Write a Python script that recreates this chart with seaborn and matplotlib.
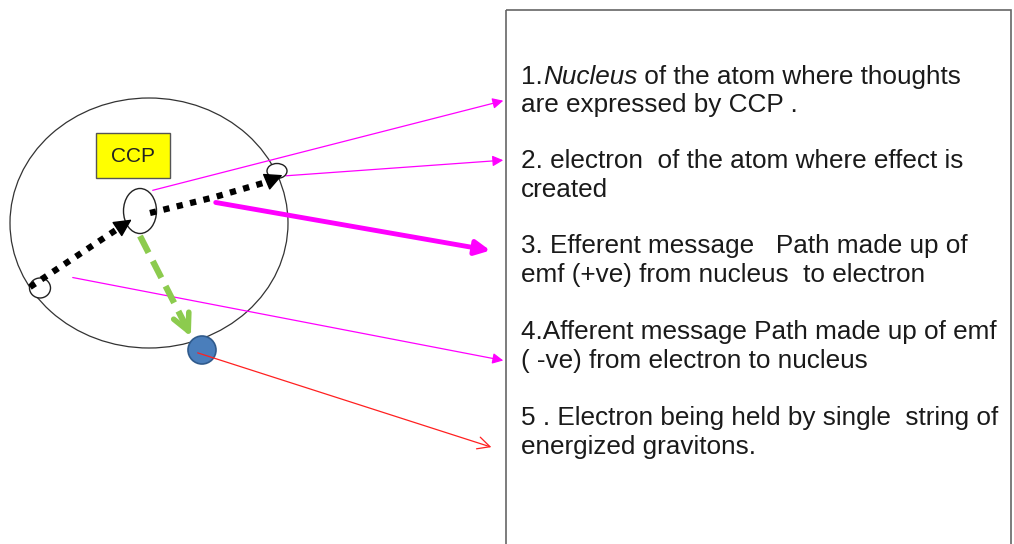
import matplotlib
matplotlib.use("Agg")
import matplotlib.pyplot as plt
import seaborn as sns
from matplotlib.patches import Ellipse, Rectangle, Circle

# legend text, one entry per numbered item (first word of item 1 is italic)
item_lines = [
    ["1.", " of the atom where thoughts", "are expressed by CCP ."],
    ["2. electron  of the atom where effect is", "created"],
    ["3. Efferent message   Path made up of", "emf (+ve) from nucleus  to electron"],
    ["4.Afferent message Path made up of emf", "( -ve) from electron to nucleus"],
    ["5 . Electron being held by single  string of", "energized gravitons."],
]
baselines = [[84, 112], [168, 197], [253, 282], [339, 368], [425, 454]]

MAGENTA = "#FF00FF"
GREEN = "#8CCB4E"
BALL = "#4A7EBB"

sns.set_theme(style="white")
plt.rcParams["font.family"] = ["Liberation Sans", "DejaVu Sans"]

fig = plt.figure(figsize=(10.14, 5.44), dpi=100)
ax = fig.add_axes([0, 0, 1, 1])
ax.set_xlim(0, 1014)
ax.set_ylim(544, 0)
ax.axis("off")

# atom
ax.add_patch(Ellipse((149, 223), 278, 250, fill=False, ec="#333333", lw=0.9))
ax.add_patch(Rectangle((96, 133), 74, 45, fc="#FFFF00", ec="#555555", lw=1))
ax.text(133, 157, "CCP", ha="center", va="center", fontsize=15, color="#222222")
ax.add_patch(Ellipse((140, 211), 33, 45, fc="white", ec="#222222", lw=1, zorder=3))
ax.add_patch(Ellipse((277, 171), 20, 15, fc="white", ec="#222222", lw=1, zorder=3))
ax.add_patch(Ellipse((40, 288), 21, 20, fc="white", ec="#222222", lw=1, zorder=3))

# black dotted paths
ax.plot([30, 122], [287, 226], color="black", lw=4.5, ls=(0, (1, 1.2)), zorder=4)
ax.annotate("", xy=(134, 218), xytext=(116, 230),
            arrowprops=dict(arrowstyle="-|>", color="black", mutation_scale=28, lw=1), zorder=5)
ax.plot([150, 215, 270], [213, 197, 181], color="black", lw=4.5, ls=(0, (1, 1.2)), zorder=4)
ax.annotate("", xy=(285, 174), xytext=(266, 182),
            arrowprops=dict(arrowstyle="-|>", color="black", mutation_scale=28, lw=1), zorder=5)

# green dashed path to the electron ball
ax.plot([140, 187], [236, 328], color=GREEN, lw=4.5, ls=(0, (3, 1.5)), zorder=4)
ax.annotate("", xy=(192, 339), xytext=(186, 326),
            arrowprops=dict(arrowstyle="->", color=GREEN, mutation_scale=30, lw=4), zorder=4)
ax.add_patch(Circle((202, 350), 14, fc=BALL, ec="#2F5A8C", lw=1.2, zorder=5))

# callout lines
thin = dict(arrowstyle="-|>", color=MAGENTA, lw=0.9, mutation_scale=16)
ax.annotate("", xy=(506, 100), xytext=(150, 191), arrowprops=thin, zorder=2)
ax.annotate("", xy=(506, 160), xytext=(283, 176), arrowprops=thin, zorder=2)
ax.annotate("", xy=(506, 361), xytext=(70, 277), arrowprops=thin, zorder=2)
ax.annotate("", xy=(493, 251), xytext=(213, 202),
            arrowprops=dict(arrowstyle="-|>", color=MAGENTA, lw=3.5, mutation_scale=22), zorder=2)
ax.annotate("", xy=(494, 448), xytext=(195, 352),
            arrowprops=dict(arrowstyle="->", color="#FF2020", lw=0.9, mutation_scale=22), zorder=6)

# text box
ax.add_patch(Rectangle((506, 10), 505, 560, fill=False, ec="#666666", lw=1.2))

fs = 18.8
for lines, ys in zip(item_lines, baselines):
    if len(lines) == 3:
        t = ax.text(521, ys[0], lines[0], fontsize=fs, va="baseline", color="#1a1a1a")
        t2 = ax.annotate("Nucleus", xy=(1, 0), xycoords=t, fontsize=fs, style="italic",
                         va="bottom", color="#1a1a1a")
        ax.annotate(lines[1], xy=(1, 0), xycoords=t2, fontsize=fs, va="bottom", color="#1a1a1a")
        ax.text(521, ys[1], lines[2], fontsize=fs, va="baseline", color="#1a1a1a")
    else:
        for line, y in zip(lines, ys):
            ax.text(521, y, line, fontsize=fs, va="baseline", color="#1a1a1a")

fig.savefig("out.png", dpi=100, facecolor="white")
